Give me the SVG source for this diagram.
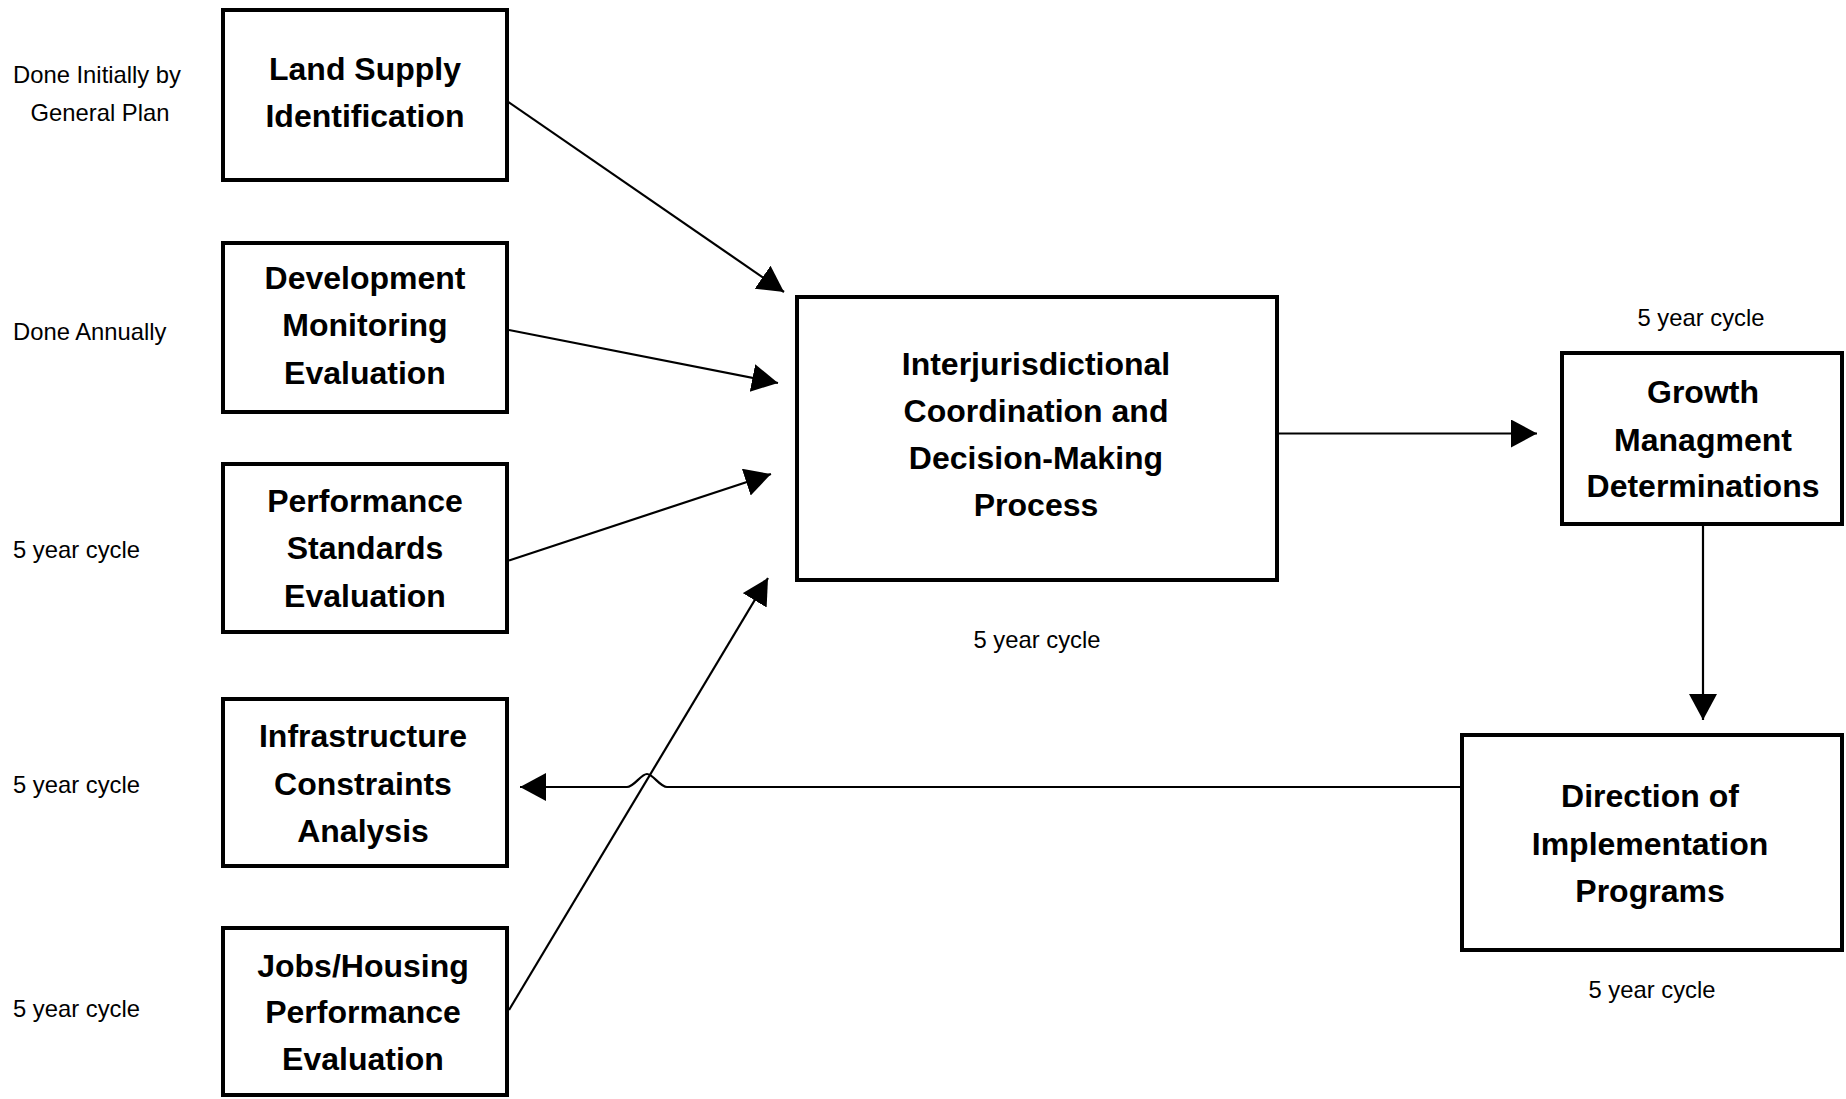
<svg xmlns="http://www.w3.org/2000/svg" width="1846" height="1099" viewBox="0 0 1846 1099">
<style>
.box{fill:#fff;stroke:#000;stroke-width:4}
.t{font-family:"Liberation Sans",Arial,sans-serif;font-weight:bold;font-size:32px;text-anchor:middle;fill:#000}
.n{font-family:"Liberation Sans",Arial,sans-serif;font-size:23.8px;fill:#000}
.c{fill:none;stroke:#000;stroke-width:2.2}
</style>
<defs>
<marker id="ah" markerUnits="userSpaceOnUse" markerWidth="28" markerHeight="30" refX="26" refY="14" orient="auto" viewBox="0 0 28 30">
<path d="M0,0 L26,14 L0,28 z" fill="#000"/>
</marker>
</defs>
<rect width="1846" height="1099" fill="#fff"/>
<g id="connectors">
<line class="c" x1="504" y1="99" x2="784" y2="292" marker-end="url(#ah)"/>
<line class="c" x1="509" y1="330" x2="778" y2="383" marker-end="url(#ah)"/>
<line class="c" x1="509" y1="560.5" x2="771" y2="474" marker-end="url(#ah)"/>
<line class="c" x1="509" y1="1010" x2="768" y2="578" marker-end="url(#ah)"/>
<line class="c" x1="1279" y1="433.5" x2="1537" y2="433.5" marker-end="url(#ah)"/>
<line class="c" x1="1703" y1="526" x2="1703" y2="720" marker-end="url(#ah)"/>
<path class="c" d="M1460,787 H667 C660,787 653,774 647,774 C641,774 634,787 627,787 H520" marker-end="url(#ah)"/>
</g>
<g id="note-land"><text class="n" text-anchor="middle" x="97" y="83">Done Initially by</text><text class="n" text-anchor="middle" x="100" y="121">General Plan</text></g>
<g id="note-dev"><text class="n" x="13" y="340">Done Annually</text></g>
<g id="note-perf"><text class="n" x="13" y="558">5 year cycle</text></g>
<g id="note-infra"><text class="n" x="13" y="793">5 year cycle</text></g>
<g id="note-jobs"><text class="n" x="13" y="1017">5 year cycle</text></g>
<g id="note-central"><text class="n" text-anchor="middle" x="1037" y="648">5 year cycle</text></g>
<g id="note-growth"><text class="n" text-anchor="middle" x="1701" y="326">5 year cycle</text></g>
<g id="note-direction"><text class="n" text-anchor="middle" x="1652" y="998">5 year cycle</text></g>
<g id="land-supply">
<rect class="box" x="223" y="10" width="284" height="170"/>
<text class="t" x="365" y="80">Land Supply</text>
<text class="t" x="365" y="127">Identification</text>
</g>
<g id="development">
<rect class="box" x="223" y="243" width="284" height="169"/>
<text class="t" x="365" y="289">Development</text>
<text class="t" x="365" y="336">Monitoring</text>
<text class="t" x="365" y="384">Evaluation</text>
</g>
<g id="performance">
<rect class="box" x="223" y="464" width="284" height="168"/>
<text class="t" x="365" y="512">Performance</text>
<text class="t" x="365" y="559">Standards</text>
<text class="t" x="365" y="607">Evaluation</text>
</g>
<g id="infrastructure">
<rect class="box" x="223" y="699" width="284" height="167"/>
<text class="t" x="363" y="747">Infrastructure</text>
<text class="t" x="363" y="795">Constraints</text>
<text class="t" x="363" y="842">Analysis</text>
</g>
<g id="jobs-housing">
<rect class="box" x="223" y="928" width="284" height="167"/>
<text class="t" x="363" y="977">Jobs/Housing</text>
<text class="t" x="363" y="1023">Performance</text>
<text class="t" x="363" y="1070">Evaluation</text>
</g>
<g id="central">
<rect class="box" x="797" y="297" width="480" height="283"/>
<text class="t" x="1036" y="375">Interjurisdictional</text>
<text class="t" x="1036" y="422">Coordination and</text>
<text class="t" x="1036" y="469">Decision-Making</text>
<text class="t" x="1036" y="516">Process</text>
</g>
<g id="growth">
<rect class="box" x="1562" y="353" width="280" height="171"/>
<text class="t" x="1703" y="403">Growth</text>
<text class="t" x="1703" y="451">Managment</text>
<text class="t" x="1703" y="497">Determinations</text>
</g>
<g id="direction">
<rect class="box" x="1462" y="735" width="380" height="215"/>
<text class="t" x="1650" y="807">Direction of</text>
<text class="t" x="1650" y="855">Implementation</text>
<text class="t" x="1650" y="902">Programs</text>
</g>
</svg>
